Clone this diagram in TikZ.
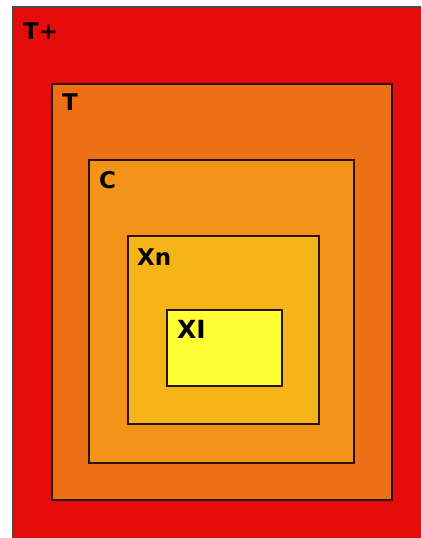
\documentclass[tikz,border=0pt]{standalone}
\usepackage{fontspec}
\setmainfont{DejaVu Sans}
\definecolor{cRed}{HTML}{E60C0C}
\definecolor{cT}{HTML}{EE7016}
\definecolor{cC}{HTML}{F2931A}
\definecolor{cXn}{HTML}{F5B518}
\definecolor{cXI}{HTML}{FFFF33}
\definecolor{cEdge}{HTML}{2A1206}
\begin{document}
\begin{tikzpicture}[x=1pt,y=-1pt,
  box/.style={draw=cEdge,line width=1.6pt},
  lbl/.style={anchor=base west,inner sep=0pt,font=\fontsize{23}{25}\selectfont\bfseries,text=black!90!cEdge}]
\useasboundingbox (0,0) rectangle (421,538);
\fill[white] (0,0) rectangle (421,538);
\begin{scope}
\clip (0,0) rectangle (421,538);
\fill[cRed,draw=black!70,line width=1.6pt] (13,7) rectangle (440,560);
\end{scope}
\filldraw[box,fill=cT] (52,84) rectangle (392,500);
\filldraw[box,fill=cC] (89,160) rectangle (354,463);
\filldraw[box,fill=cXn] (128,236) rectangle (319,424);
\filldraw[box,fill=cXI] (167,310) rectangle (282,386);
\node[lbl] (tp) at (23,39) {T+};
\node[lbl] (t) at (62,110) {T};
\node[lbl] (c) at (99,188) {C};
\node[lbl] (xn) at (137,265) {Xn};
\node[lbl,font=\fontsize{25}{26}\selectfont\bfseries,text=black] (xl) at (177,338) {XI};
\end{tikzpicture}
\end{document}
